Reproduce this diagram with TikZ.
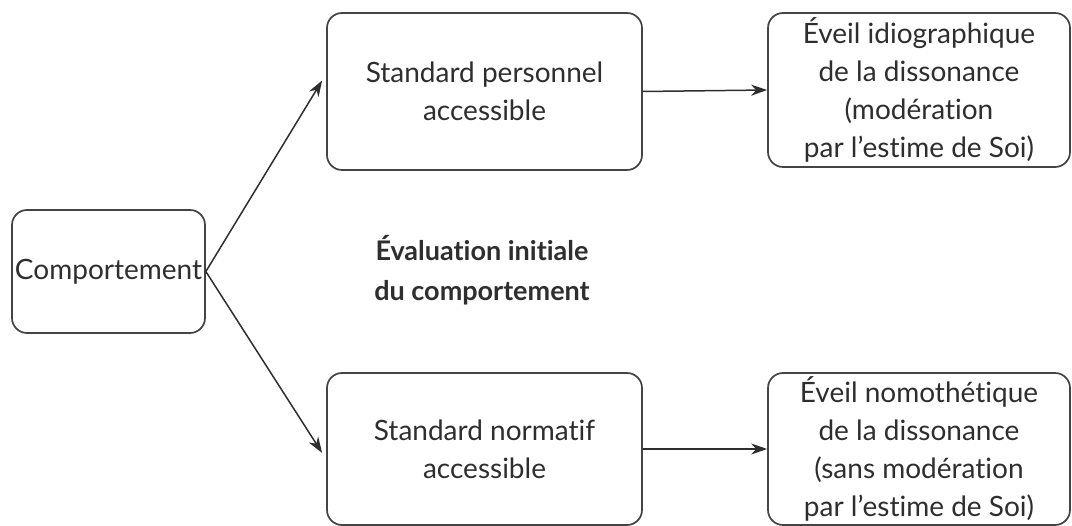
\documentclass[tikz,border=0pt]{standalone}
\usepackage{fontspec}
\setmainfont{Lato}[Ligatures={NoCommon}]
\usetikzlibrary{arrows.meta}
\definecolor{ink}{HTML}{2E2E2E}
\definecolor{edge}{HTML}{444444}
\begin{document}
\begin{tikzpicture}[x=1pt,y=-1pt,
  box/.style={draw=edge,line width=1.7pt,rounded corners=15pt,inner sep=0pt,
    text=ink,align=center,font=\fontsize{28}{38}\selectfont},
  conn/.style={draw=ink,line width=1.5pt,-{Stealth[length=16pt,width=11pt,inset=5pt]}}]
\useasboundingbox (0,0) rectangle (1072,526);
\node[box,minimum width=193pt,minimum height=123pt] (comp) at (108.5,271.5) {Comportement};
\node[box,minimum width=315pt,minimum height=157pt] (sp) at (484.5,91.5) {Standard personnel\\accessible};
\node[box,minimum width=302pt,minimum height=154pt] (ei) at (919,90) {Éveil idiographique\\de la dissonance\\(modération\\par l’estime de Soi)};
\node[box,minimum width=315pt,minimum height=152pt] (sn) at (484.5,449) {Standard normatif\\accessible};
\node[box,minimum width=302pt,minimum height=152pt] (en) at (919,449) {Éveil nomothétique\\de la dissonance\\(sans modération\\par l’estime de Soi)};
\node[text=ink,align=center,font=\fontsize{27}{40}\selectfont\bfseries] (ev) at (482,270) {Évaluation initiale\\du comportement};
\draw[conn] (comp.east) -- ([xshift=-4pt,yshift=11pt]sp.west);
\draw[conn] (comp.east) -- ([xshift=-4pt,yshift=-4pt]sn.west);
\draw[conn] (sp.east) -- (ei.west);
\draw[conn] (sn.east) -- (en.west);
\end{tikzpicture}
\end{document}
